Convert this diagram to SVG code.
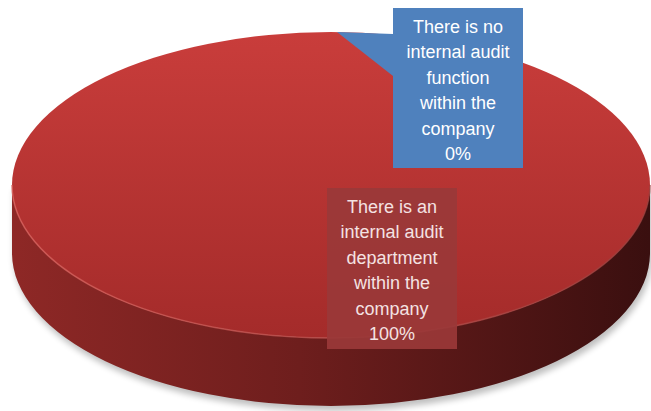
<svg xmlns="http://www.w3.org/2000/svg" width="651" height="411" viewBox="0 0 651 411">
<defs>
<linearGradient id="topG" x1="0" y1="0" x2="0" y2="1">
<stop offset="0" stop-color="#c93d3b"/>
<stop offset="1" stop-color="#a42b2a"/>
</linearGradient>
<linearGradient id="sideG" x1="0" y1="0" x2="1" y2="0">
<stop offset="0" stop-color="#8e2826"/>
<stop offset="0.45" stop-color="#6e1e1d"/>
<stop offset="1" stop-color="#3a0f0f"/>
</linearGradient>
<linearGradient id="rimG" x1="0" y1="0" x2="1" y2="0">
<stop offset="0" stop-color="#d9605c"/>
<stop offset="1" stop-color="#9a3a38"/>
</linearGradient>
<filter id="sh" x="-5%" y="-5%" width="110%" height="115%">
<feGaussianBlur stdDeviation="3"/>
</filter>
<style>
.lbl{font-family:"Liberation Sans",Arial,sans-serif;font-size:18px;text-anchor:middle}
.w{fill:#ffffff}
.p{fill:#f4e2e2}
</style>
</defs>
<g id="pie">
<path d="M12,187 L12,255 A319,153 0 0 0 650,255 L650,187 Z" fill="#000" opacity="0.25" filter="url(#sh)" transform="translate(2,3)"/>
<path id="side" d="M12,185 L12,253 A319,153 0 0 0 650,253 L650,185 A319,153 0 0 1 12,185 Z" fill="url(#sideG)"/>
<ellipse id="top" cx="331" cy="185" rx="319" ry="153" fill="url(#topG)"/>
<path d="M12,185 A319,153 0 0 0 650,185" fill="none" stroke="url(#rimG)" stroke-width="1.5" opacity="0.8"/>
</g>
<g id="connectors">
<path d="M337,32 L393,34 L393,76 Z" fill="#4f81bd"/>
</g>
<g id="node-no">
<rect x="393" y="8" width="130" height="160" fill="#4f81bd"/>
<text class="lbl w" x="458" y="33">There is no</text>
<text class="lbl w" x="458" y="58">internal audit</text>
<text class="lbl w" x="458" y="84">function</text>
<text class="lbl w" x="458" y="109">within the</text>
<text class="lbl w" x="458" y="135">company</text>
<text class="lbl w" x="458" y="160">0%</text>
</g>
<g id="node-yes">
<rect x="327" y="188" width="130" height="161" fill="#9a3838" opacity="0.92"/>
<text class="lbl p" x="392" y="213">There is an</text>
<text class="lbl p" x="392" y="238">internal audit</text>
<text class="lbl p" x="392" y="264">department</text>
<text class="lbl p" x="392" y="289">within the</text>
<text class="lbl p" x="392" y="315">company</text>
<text class="lbl p" x="392" y="340">100%</text>
</g>
</svg>
